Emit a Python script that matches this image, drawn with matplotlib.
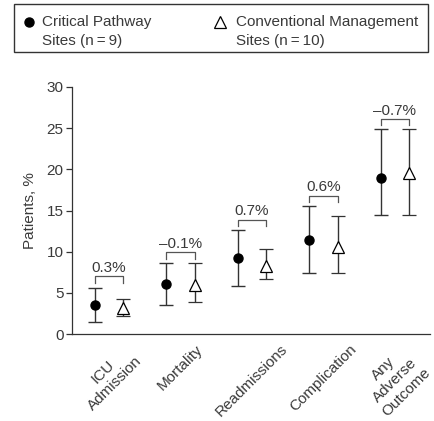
import matplotlib
matplotlib.use('Agg')
import matplotlib.pyplot as plt
from matplotlib.lines import Line2D
from matplotlib.patches import Rectangle
import numpy as np

plt.rcParams['font.family'] = ['Liberation Sans', 'DejaVu Sans']

categories = ['ICU\nAdmission', 'Mortality', 'Readmissions', 'Complication', 'Any\nAdverse\nOutcome']

# critical pathway sites (n = 9)
cp_mid = [3.5, 6.1, 9.2, 11.4, 19.0]
cp_low = [1.4, 3.5, 5.8, 7.4, 14.5]
cp_high = [5.6, 8.6, 12.6, 15.5, 24.9]

# conventional management sites (n = 10)
cm_mid = [3.1, 6.0, 8.3, 10.6, 19.5]
cm_low = [2.2, 3.85, 6.7, 7.4, 14.5]
cm_high = [4.25, 8.6, 10.3, 14.3, 24.9]

diff_labels = ['0.3%', '\u20130.1%', '0.7%', '0.6%', '\u20130.7%']
bracket_y = [7.0, 9.9, 13.85, 16.8, 26.1]

TXT = '#3a3a3a'
LINE = '#333333'
FS = 11

fig = plt.figure(figsize=(4.35, 4.21), dpi=100)
ax = fig.add_axes([72 / 435, 1 - 334 / 421, 358 / 435, 247 / 421])

x = np.arange(1, len(categories) + 1)
off = 0.2

ax.errorbar(x - off, cp_mid,
            yerr=[np.array(cp_mid) - np.array(cp_low), np.array(cp_high) - np.array(cp_mid)],
            fmt='o', color='black', ecolor=LINE, elinewidth=1.0, capsize=5, capthick=1.0,
            markersize=6.5, zorder=3)
ax.errorbar(x + off, cm_mid,
            yerr=[np.array(cm_mid) - np.array(cm_low), np.array(cm_high) - np.array(cm_mid)],
            fmt='^', color=LINE, mfc='white', mec='black', mew=0.9, ecolor=LINE,
            elinewidth=1.0, capsize=5, capthick=1.0, markersize=8.5, zorder=3)

# brackets with differences
for xi, by, lab in zip(x, bracket_y, diff_labels):
    ax.plot([xi - off, xi - off, xi + off, xi + off], [by - 0.75, by, by, by - 0.75],
            color='#555555', lw=0.9)
    ax.text(xi, by + 0.55, lab, ha='center', va='baseline', fontsize=FS, color=TXT)

ax.set_xlim(0.48, 5.49)
ax.set_ylim(0, 30)
ax.set_yticks([0, 5, 10, 15, 20, 25, 30])
ax.set_xticks(x)
ax.set_xticklabels(categories, rotation=45, ha='center', va='top',
                   multialignment='center', fontsize=FS, color=TXT)
ax.tick_params(axis='x', length=0, pad=6)
ax.tick_params(axis='y', length=4, width=0.9, color=LINE, labelsize=FS, labelcolor=TXT, pad=2)
ax.spines['top'].set_visible(False)
ax.spines['right'].set_visible(False)
for s in ['left', 'bottom']:
    ax.spines[s].set_color(LINE)
    ax.spines[s].set_linewidth(0.9)
ax.set_ylabel('Patients, %', fontsize=FS, color=TXT, labelpad=7)

# legend box at top
W, H = 435, 421
fig.add_artist(Rectangle((14 / W, 1 - 52 / H), (428 - 14) / W, (52 - 4) / H,
                         transform=fig.transFigure, fill=False, ec='#333333', lw=1.0))
fig.add_artist(Line2D([29 / W], [1 - 22 / H], marker='o', ms=6.5, color='black',
                      transform=fig.transFigure))
fig.add_artist(Line2D([220 / W], [1 - 22 / H], marker='^', ms=8, mfc='white', mec='black',
                      mew=0.9, transform=fig.transFigure))
fig.text(42 / W, 1 - 22 / H, 'Critical Pathway', ha='left', va='center', fontsize=FS, color=TXT)
fig.text(42 / W, 1 - 41 / H, 'Sites (n\u2009=\u20099)', ha='left', va='center', fontsize=FS, color=TXT)
fig.text(236 / W, 1 - 22 / H, 'Conventional Management', ha='left', va='center', fontsize=FS, color=TXT)
fig.text(236 / W, 1 - 41 / H, 'Sites (n\u2009=\u200910)', ha='left', va='center', fontsize=FS, color=TXT)

fig.savefig('out.png', dpi=100)
